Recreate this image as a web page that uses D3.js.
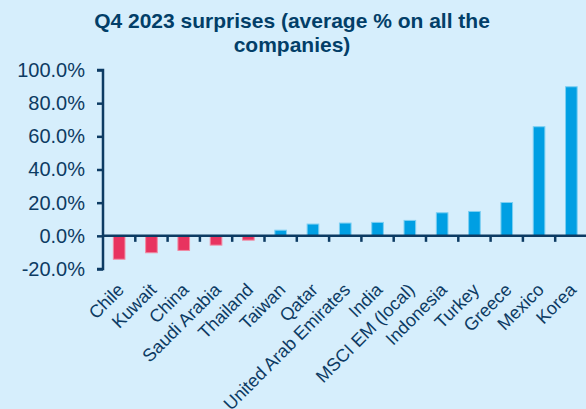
<!DOCTYPE html>
<html lang="en">
<head>
<meta charset="UTF-8">
<title>Q4 2023 surprises</title>
<style>
    body {
        margin: 0;
        padding: 0;
        background: #d6eefc;
    }
    #chart text {
        font-family: Arial, "Liberation Sans", sans-serif;
        fill: #0d3b63;
    }
</style>
</head>
<body>
<svg id="chart"></svg>

<script src="https://d3js.org/d3.v7.min.js"></script>
<script>
    var countries = ["Chile", "Kuwait", "China", "Saudi Arabia", "Thailand", "Taiwan", "Qatar",
        "United Arab Emirates", "India", "MSCI EM (local)", "Indonesia", "Turkey", "Greece", "Mexico", "Korea"];
    var surprises = [-14.1, -10.2, -8.8, -5.6, -2.6, 3.4, 7.1, 7.7, 8.1, 9.3, 13.9, 14.7, 20.1, 65.8, 89.9];
    var yTicks = [-20, 0, 20, 40, 60, 80, 100];
    var title = ["Q4 2023 surprises (average % on all the", "companies)"];

    var width = 586, height = 409;
    var dark = "#0d3b63";

    var svg = d3.select("#chart")
        .attr("width", width)
        .attr("height", height);

    svg.append("rect")
        .attr("width", width)
        .attr("height", height)
        .attr("fill", "#d6eefc");

    // title
    svg.append("g")
        .selectAll("text")
        .data(title)
        .enter()
        .append("text")
        .attr("x", 292)
        .attr("y", function (d, i) { return 28 + i * 24; })
        .attr("text-anchor", "middle")
        .style("font-size", "21px")
        .style("font-weight", "bold")
        .style("fill", "#023e68")
        .text(function (d) { return d; });

    var x = d3.scaleBand()
        .domain(countries)
        .range([103, 587.5])
        .paddingInner(0.64)
        .paddingOuter(0.32);

    var y = d3.scaleLinear()
        .domain([-20, 100])
        .range([269, 70]);

    // bars
    svg.append("g")
        .selectAll("rect")
        .data(countries)
        .enter()
        .append("rect")
        .attr("x", function (d) { return x(d); })
        .attr("width", x.bandwidth())
        .attr("y", function (d, i) { return y(Math.max(0, surprises[i])); })
        .attr("height", function (d, i) { return Math.abs(y(surprises[i]) - y(0)); })
        .attr("fill", function (d, i) { return surprises[i] < 0 ? "#e8335f" : "#009fe3"; })
        .attr("stroke", function (d, i) { return surprises[i] < 0 ? "#f08aa3" : "#7ccff2"; })
        .attr("stroke-width", 1);

    // y axis
    var yAxis = svg.append("g")
        .attr("transform", "translate(103,0)")
        .call(d3.axisLeft(y)
            .tickValues(yTicks)
            .tickSize(6)
            .tickPadding(12)
            .tickFormat(function (d) { return d.toFixed(1) + "%"; }));
    yAxis.select(".domain")
        .attr("stroke", dark)
        .attr("stroke-width", 2.5)
        .attr("d", "M-6," + y(100) + "H0V" + y(-20) + "H-6");
    yAxis.selectAll(".tick line").attr("stroke", dark).attr("stroke-width", 2.5);
    yAxis.selectAll("text").style("font-size", "20px").attr("fill", dark);

    // zero line with ticks between categories
    var step = x.step();
    var zero = svg.append("g").attr("transform", "translate(0," + y(0) + ")");
    zero.append("line")
        .attr("x1", 103)
        .attr("x2", width)
        .attr("stroke", dark)
        .attr("stroke-width", 2.5);
    zero.selectAll("line.t")
        .data(countries.slice(1))
        .enter()
        .append("line")
        .attr("class", "t")
        .attr("x1", function (d) { return x(d) - x.paddingOuter() * step; })
        .attr("x2", function (d) { return x(d) - x.paddingOuter() * step; })
        .attr("y1", 0)
        .attr("y2", 6)
        .attr("stroke", dark)
        .attr("stroke-width", 2.5);

    // category labels at bottom of plot
    var xAxis = svg.append("g")
        .attr("transform", "translate(0," + y(-20) + ")")
        .call(d3.axisBottom(x).tickSize(0).tickPadding(0));
    xAxis.select(".domain").remove();
    xAxis.selectAll("text")
        .style("font-size", "18px")
        .attr("fill", dark)
        .attr("text-anchor", "end")
        .attr("dy", "0")
        .attr("transform", "translate(6,22) rotate(-45)");
</script>
</body>
</html>
